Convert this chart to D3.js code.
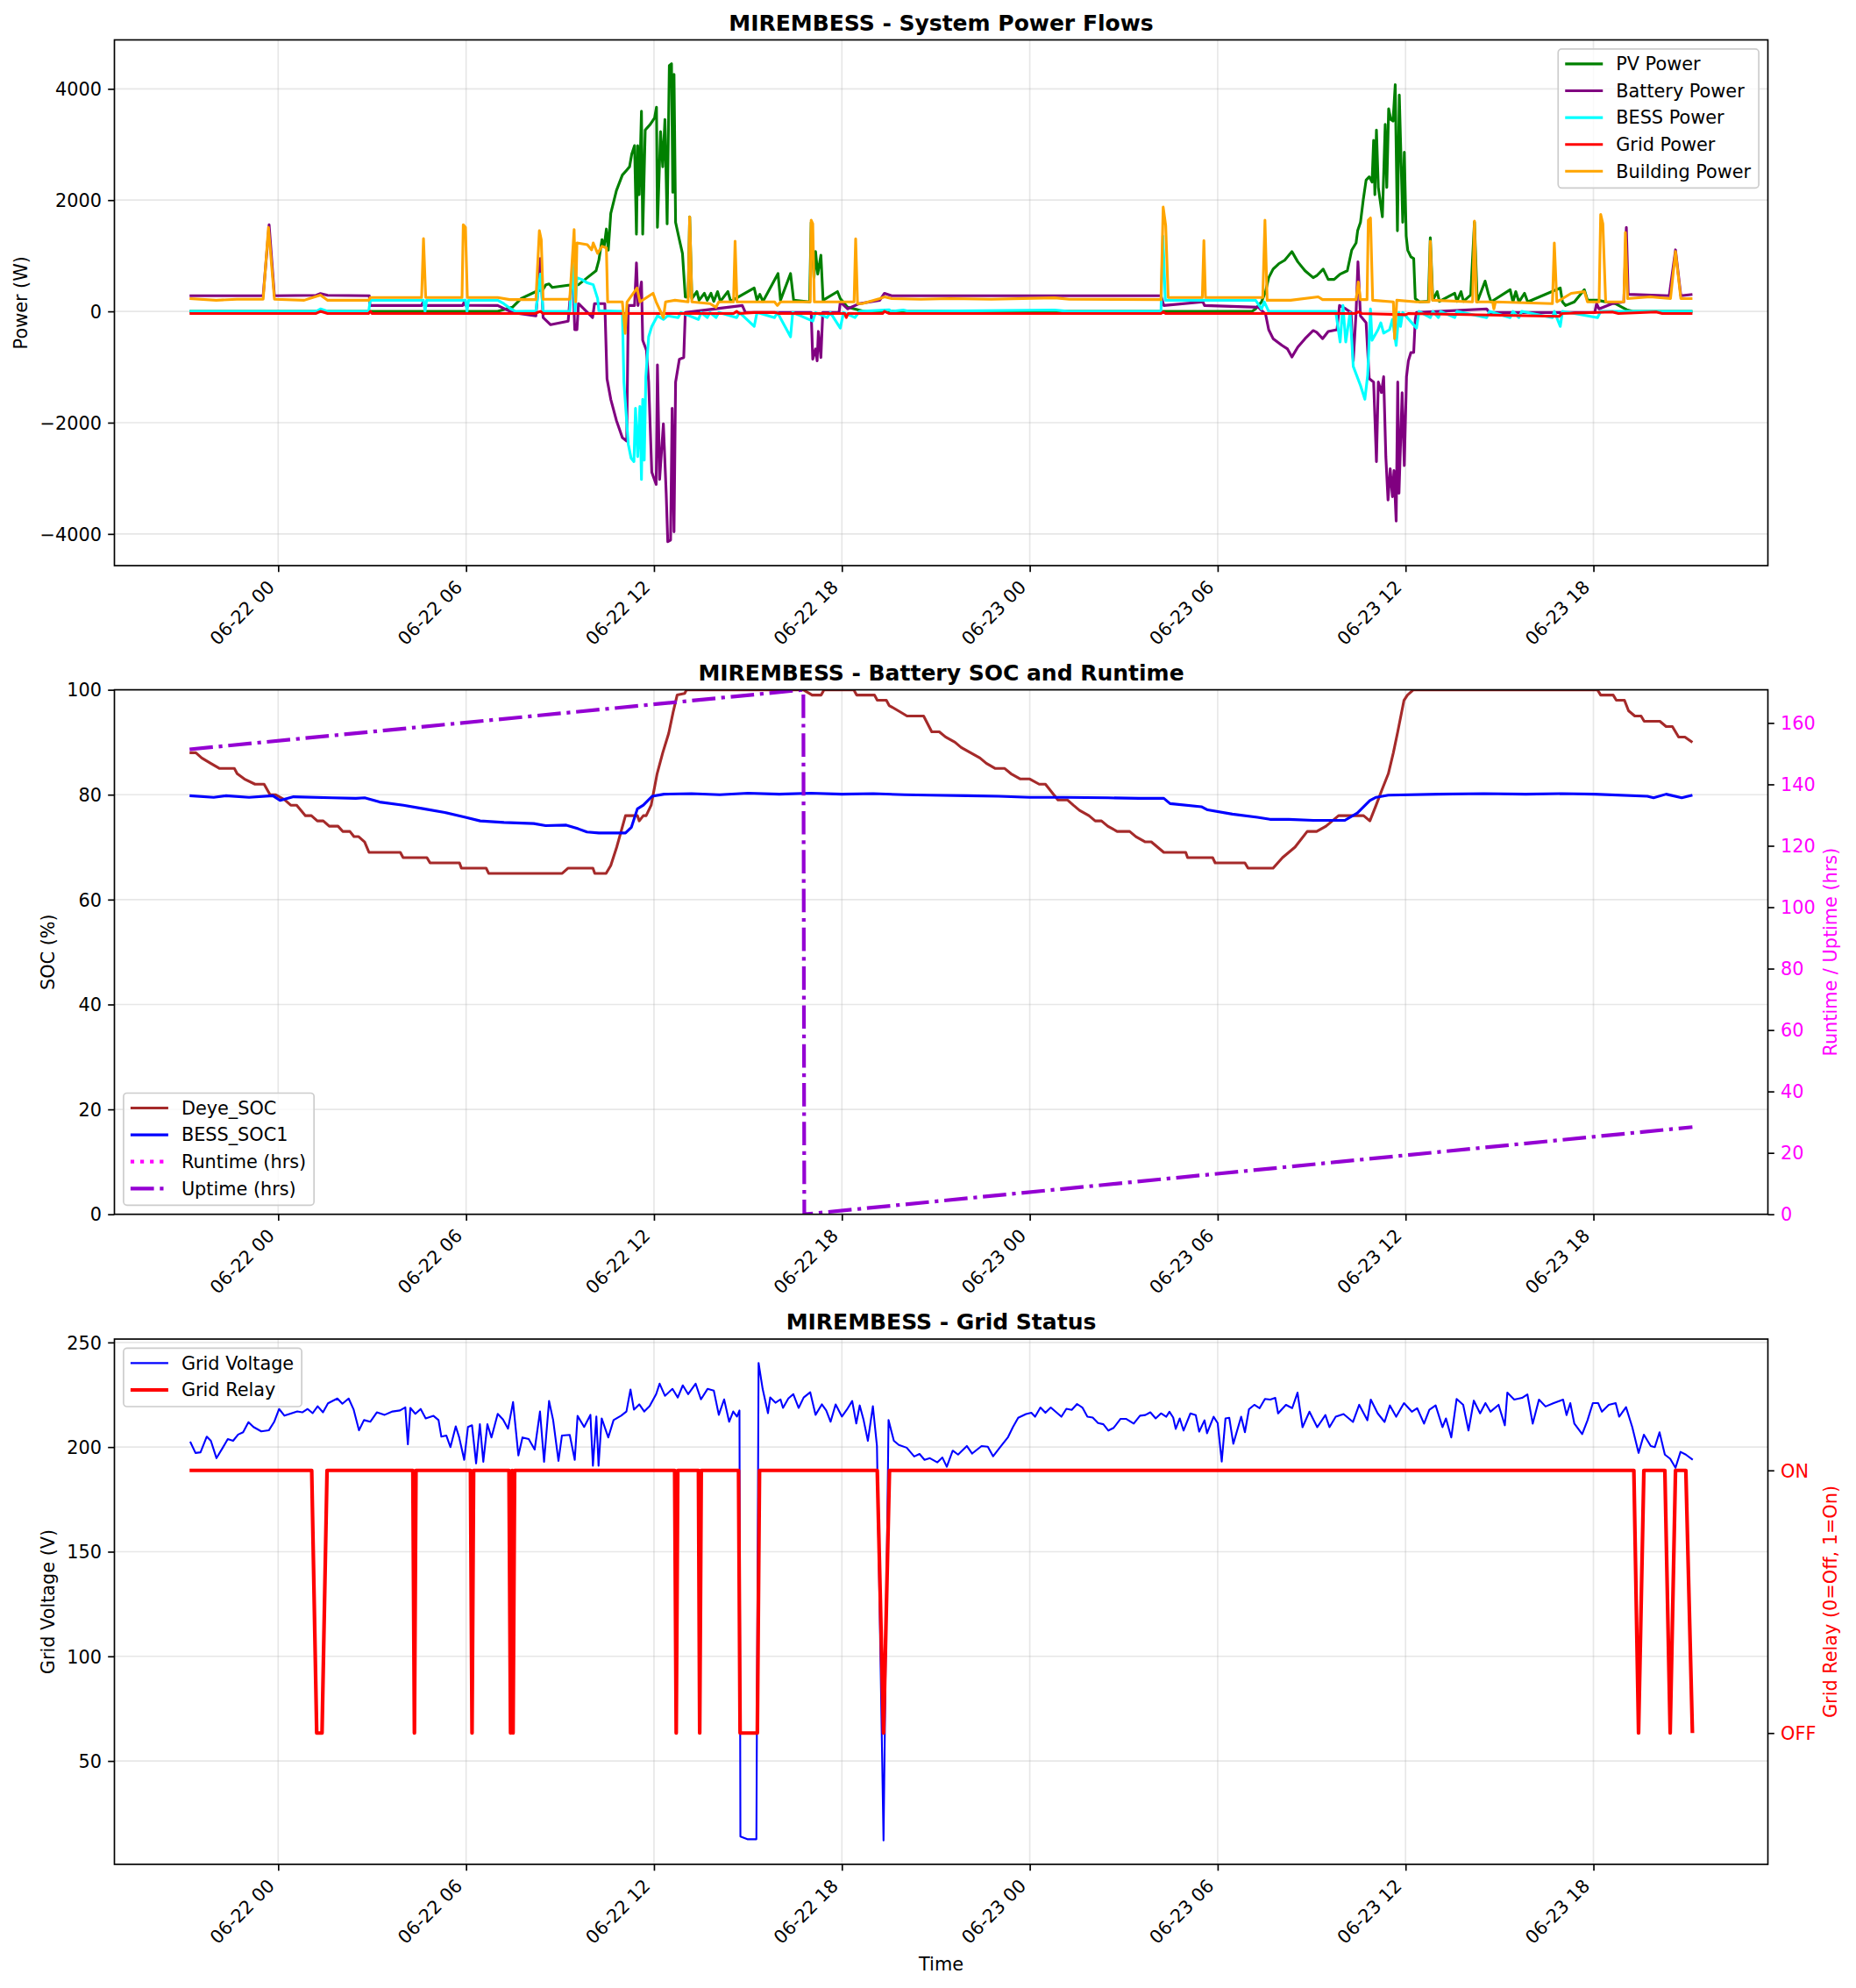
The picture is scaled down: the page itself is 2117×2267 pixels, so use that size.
<!DOCTYPE html>
<meta charset="utf-8">
<body style="margin:0;background:#fff">
<script src="https://d3js.org/d3.v7.min.js"></script>
<script>
// all times are hours from 06-22 00:00

var pvPower = [[-2.83,0],[7.01,0],[7.48,75],[7.76,231],[8.23,356],[8.45,390],[8.55,480],[8.65,494],[8.75,430],[9.26,470],[9.59,480],[9.87,606],[10.15,730],[10.24,920],[10.34,1290],[10.41,1170],[10.48,1480],[10.54,1100],[10.62,1760],[10.80,2170],[10.99,2450],[11.13,2540],[11.22,2600],[11.29,2825],[11.38,2980],[11.44,1390],[11.48,2980],[11.53,2100],[11.60,3600],[11.64,1390],[11.72,3260],[11.88,3360],[12.02,3480],[12.08,3670],[12.11,1510],[12.21,3230],[12.28,2600],[12.35,3450],[12.42,1575],[12.49,4420],[12.56,4450],[12.60,2140],[12.64,4260],[12.69,1600],[12.81,1290],[12.91,1040],[13.00,260],[13.09,255],[13.14,1700],[13.21,230],[13.37,356],[13.44,200],[13.61,325],[13.70,200],[13.82,325],[13.91,180],[14.03,356],[14.12,180],[14.36,356],[14.45,180],[15.20,420],[15.29,200],[15.38,306],[15.48,180],[15.96,680],[16.04,200],[16.36,680],[16.46,200],[16.97,170],[17.02,1600],[17.11,606],[17.16,1075],[17.23,670],[17.33,1010],[17.40,200],[17.86,356],[17.95,230],[18.18,75],[18.65,10],[18.75,0],[31.10,0],[31.21,45],[31.40,170],[31.53,356],[31.63,606],[31.77,760],[31.95,856],[32.14,920],[32.37,1075],[32.56,890],[32.79,730],[33.05,606],[33.16,640],[33.37,760],[33.53,575],[33.72,575],[33.91,670],[34.14,730],[34.28,1100],[34.42,1230],[34.47,1450],[34.56,1600],[34.65,2010],[34.74,2360],[34.84,2420],[34.93,2325],[34.98,3075],[35.02,2100],[35.07,3260],[35.13,2230],[35.26,1700],[35.35,3360],[35.40,2230],[35.46,3640],[35.53,3450],[35.60,3420],[35.67,4075],[35.74,1450],[35.80,3890],[35.91,1600],[35.96,2860],[36.02,1356],[36.07,1100],[36.17,980],[36.26,950],[36.31,230],[36.45,170],[36.73,180],[36.79,1325],[36.87,200],[37.01,356],[37.08,180],[37.57,325],[37.64,180],[37.77,356],[37.85,180],[38.08,294],[38.20,1606],[38.29,170],[38.54,544],[38.64,325],[38.73,170],[39.34,390],[39.43,170],[39.52,356],[39.62,170],[39.80,325],[39.90,170],[40.94,420],[41.01,170],[41.11,106],[41.39,170],[41.71,390],[41.81,200],[42.13,200],[42.69,140],[43.06,30],[43.25,0],[45.16,0]];

var batteryPower = [[-2.83,281],[-0.48,281],[-0.29,1556],[-0.12,281],[1.21,290],[1.35,320],[1.58,290],[2.91,281],[2.93,106],[4.58,106],[4.63,170],[4.67,106],[5.89,106],[5.94,170],[5.98,110],[7.01,106],[7.48,-20],[8.23,-80],[8.37,950],[8.46,-110],[8.70,-240],[9.26,-175],[9.40,790],[9.47,-330],[9.54,-330],[9.59,140],[10.04,-110],[10.10,140],[10.43,140],[10.50,-1210],[10.62,-1580],[10.80,-1960],[10.99,-2270],[11.13,-2330],[11.18,106],[11.38,106],[11.44,870],[11.49,106],[11.60,530],[11.64,-520],[11.76,-700],[11.83,-1270],[11.93,-2890],[12.07,-3110],[12.11,-960],[12.18,-3020],[12.30,-2020],[12.39,-3270],[12.44,-4140],[12.53,-4110],[12.58,-1740],[12.64,-3960],[12.69,-1270],[12.81,-860],[12.95,-830],[13.00,-20],[14.82,106],[14.92,-20],[17.02,-20],[17.07,-860],[17.16,-675],[17.21,-890],[17.25,-360],[17.33,-830],[17.39,-20],[17.91,-20],[17.95,170],[18.18,45],[18.56,140],[19.21,200],[19.36,325],[19.59,281],[28.19,281],[28.28,106],[29.53,170],[29.58,106],[31.30,75],[31.53,-50],[31.63,-330],[31.77,-490],[32.05,-610],[32.23,-675],[32.37,-820],[32.56,-640],[32.79,-490],[33.05,-345],[33.16,-375],[33.35,-490],[33.53,-360],[33.81,-330],[33.89,106],[34.09,45],[34.26,-20],[34.33,-890],[34.42,-20],[34.48,890],[34.56,-80],[34.74,-205],[34.84,-1210],[34.98,-1270],[35.07,-2700],[35.13,-1270],[35.23,-1460],[35.30,-1175],[35.37,-2610],[35.44,-3390],[35.51,-2830],[35.58,-3330],[35.63,-2860],[35.70,-3770],[35.75,-1270],[35.79,-3270],[35.89,-1460],[35.96,-2770],[36.03,-1175],[36.09,-890],[36.17,-740],[36.26,-740],[36.31,-145],[36.35,-20],[38.59,45],[38.68,-20],[42.04,-20],[42.10,140],[42.18,45],[42.60,140],[42.97,170],[43.05,1510],[43.11,306],[44.42,281],[44.62,1106],[44.79,281],[45.16,306]];

var bessPower = [[-2.83,0],[1.21,0],[1.35,45],[1.58,0],[2.89,0],[2.94,200],[4.64,200],[4.69,0],[4.74,200],[5.98,200],[6.03,0],[6.08,200],[7.01,200],[7.20,140],[7.39,60],[7.58,0],[8.23,10],[8.37,670],[8.46,0],[9.31,0],[9.40,860],[9.48,0],[9.54,606],[9.69,575],[9.87,512],[10.06,480],[10.20,231],[10.24,12],[10.99,0],[11.04,-1270],[11.18,-2390],[11.27,-2640],[11.36,-2700],[11.41,-1740],[11.48,-2610],[11.55,-1710],[11.60,-3020],[11.64,-1580],[11.69,-2675],[11.74,-1175],[11.83,-456],[11.93,-270],[12.11,-80],[12.30,-145],[12.44,-80],[12.77,-112],[12.86,-20],[13.42,-145],[13.51,-20],[13.70,-112],[13.79,-20],[13.98,-112],[14.07,-20],[14.64,-112],[14.73,-20],[15.20,-270],[15.29,-20],[15.85,-112],[15.94,-20],[16.36,-456],[16.43,-20],[17.07,-175],[17.16,-20],[17.53,-112],[17.63,-20],[17.95,-300],[18.05,-20],[18.42,-112],[18.56,0],[19.50,30],[19.59,0],[19.96,25],[20.14,0],[24.79,25],[25.26,0],[28.19,0],[28.25,1356],[28.33,200],[31.21,200],[31.40,44],[31.49,170],[31.63,0],[33.77,0],[33.91,-550],[34.00,106],[34.09,-550],[34.23,-20],[34.33,-990],[34.56,-1330],[34.70,-1580],[34.79,-1145],[34.88,44],[34.93,-520],[35.12,-330],[35.21,-205],[35.30,-390],[35.49,-330],[35.58,-145],[35.70,-612],[35.79,-20],[35.84,-270],[35.91,-20],[36.35,-300],[36.43,0],[36.79,-112],[36.87,0],[37.05,-112],[37.12,0],[37.57,-112],[37.64,0],[38.59,-112],[38.68,0],[39.34,-112],[39.43,0],[39.62,-112],[39.71,0],[40.69,-112],[40.75,0],[40.94,-270],[41.01,0],[42.13,-112],[42.23,0],[45.16,0]];

var gridPower = [[-2.83,-37],[1.21,-37],[1.35,0],[1.58,-37],[2.89,-37],[2.94,0],[3.00,-37],[8.20,-37],[8.37,0],[8.46,-37],[14.54,-37],[14.64,0],[14.73,-37],[15.20,-20],[15.85,-20],[16.00,-37],[18.09,-37],[18.14,-110],[18.20,-37],[19.30,-37],[19.36,0],[19.50,-37],[28.19,-37],[28.26,-10],[28.34,-37],[34.40,-37],[34.50,-10],[34.60,-37],[36.00,-60],[36.10,-37],[40.90,-90],[41.00,-37],[42.60,-10],[42.80,-37],[44.00,-10],[44.20,-37],[45.16,-37]];

var buildingPower = [[-2.83,231],[-1.98,200],[-1.32,219],[-0.48,219],[-0.31,1510],[-0.12,219],[0.83,200],[1.35,294],[1.58,200],[2.89,200],[2.94,250],[4.58,250],[4.64,1310],[4.71,250],[5.87,250],[5.91,1556],[5.98,1510],[6.04,250],[7.01,250],[7.39,212],[8.23,212],[8.34,1450],[8.40,1290],[8.46,219],[9.31,219],[9.45,1470],[9.50,170],[9.54,1230],[9.87,1200],[10.01,1106],[10.06,1230],[10.20,1044],[10.34,1170],[10.48,1140],[10.52,170],[10.99,170],[11.08,-394],[11.14,170],[11.46,420],[11.55,170],[11.97,325],[12.07,170],[12.30,-112],[12.37,170],[12.67,200],[13.09,170],[13.14,1700],[13.21,170],[13.79,140],[13.98,75],[14.07,170],[14.54,170],[14.59,1262],[14.65,170],[15.85,170],[15.94,106],[16.04,170],[16.99,170],[17.02,1640],[17.07,1575],[17.12,170],[17.72,170],[18.39,170],[18.44,1306],[18.50,140],[18.65,140],[19.21,231],[19.36,262],[19.59,231],[20.52,219],[21.46,231],[22.77,219],[24.79,244],[25.26,219],[28.19,212],[28.26,1875],[28.34,1544],[28.42,250],[29.51,250],[29.56,1275],[29.61,250],[31.44,250],[31.51,1640],[31.58,200],[32.33,200],[33.21,262],[33.35,212],[34.42,212],[34.49,530],[34.56,212],[34.77,212],[34.81,1640],[34.88,1680],[34.95,200],[35.61,170],[35.65,-490],[35.72,200],[36.35,170],[36.75,170],[36.79,1262],[36.86,200],[38.14,170],[38.20,1625],[38.26,170],[38.78,170],[38.82,44],[38.87,170],[40.69,140],[40.75,1230],[40.83,170],[41.29,325],[41.71,356],[41.81,170],[42.18,170],[42.23,1744],[42.30,1575],[42.39,170],[42.97,170],[43.02,1420],[43.09,231],[43.81,262],[44.46,231],[44.62,1075],[44.79,231],[45.16,231]];

var deyeSoc = [[-2.83,88],[-2.63,88],[-2.44,87],[-2.16,86],[-1.87,85],[-1.40,85],[-1.31,84],[-1.08,83],[-0.74,82],[-0.45,82],[-0.26,80],[-0.08,80],[0.21,79],[0.40,78],[0.59,78],[0.87,76],[1.06,76],[1.25,75],[1.44,75],[1.63,74],[1.91,74],[2.06,73],[2.29,73],[2.42,72],[2.57,72],[2.76,71],[2.90,69],[3.90,69],[3.99,68],[4.75,68],[4.85,67],[5.79,67],[5.85,66],[6.64,66],[6.72,65],[9.07,65],[9.26,66],[10.05,66],[10.11,65],[10.47,65],[10.62,66.5],[10.81,70],[11.09,76],[11.47,76],[11.53,75],[11.66,76],[11.75,76],[11.91,78],[12.10,84],[12.28,88],[12.47,91.7],[12.61,95.7],[12.74,99],[12.98,99.3],[13.04,100],[16.77,100],[17.05,99],[17.34,99],[17.43,100],[18.38,100],[18.47,99],[19.04,99],[19.13,98],[19.42,98],[19.51,97],[19.80,96],[20.08,95],[20.61,95],[20.87,92],[21.11,92],[21.31,91],[21.61,90],[21.81,89],[22.11,88],[22.41,87],[22.61,86],[22.90,85],[23.20,85],[23.40,84],[23.70,83],[24.00,83],[24.30,82],[24.50,82],[24.90,79],[25.20,79],[25.39,78],[25.59,77],[25.89,76],[26.09,75],[26.29,75],[26.49,74],[26.79,73],[27.19,73],[27.39,72],[27.69,71],[27.88,71],[28.08,70],[28.28,69],[28.98,69],[29.04,68],[29.84,68],[29.92,67],[30.87,67],[30.97,66],[31.77,66],[32.07,68],[32.47,70],[32.86,73],[33.16,73],[33.46,74],[33.86,76],[34.66,76],[34.86,75],[35.06,78],[35.25,81],[35.45,84],[35.61,88],[35.75,92],[35.95,98],[36.06,99],[36.25,100],[42.13,100],[42.23,99],[42.63,99],[42.73,98],[42.99,98],[43.12,96],[43.32,95],[43.52,95],[43.62,94],[44.12,94],[44.32,93],[44.52,93],[44.72,91],[44.92,91],[45.16,90]];

var bessSoc = [[-2.83,79.8],[-2.06,79.5],[-1.68,79.8],[-0.93,79.5],[-0.17,79.8],[0.06,78.9],[0.49,79.6],[1.72,79.4],[2.48,79.3],[2.76,79.4],[3.24,78.6],[4.00,78.0],[4.66,77.3],[5.32,76.6],[5.98,75.7],[6.45,75.0],[7.21,74.7],[8.16,74.5],[8.54,74.1],[9.20,74.2],[9.58,73.5],[9.86,72.9],[10.24,72.7],[11.09,72.7],[11.28,73.8],[11.47,77.3],[11.66,78.0],[11.94,79.7],[12.32,80.1],[13.20,80.2],[14.10,80.0],[15.00,80.3],[16.00,80.1],[17.00,80.3],[18.00,80.1],[19.00,80.2],[20.00,80.0],[20.80,79.9],[22.00,79.8],[23.00,79.7],[24.00,79.5],[25.10,79.5],[26.50,79.4],[27.49,79.3],[28.28,79.3],[28.48,78.3],[29.48,77.7],[29.68,77.1],[30.47,76.3],[31.27,75.7],[31.67,75.3],[32.27,75.3],[33.06,75.1],[34.06,75.1],[34.46,76.5],[34.86,78.9],[35.06,79.5],[35.45,79.9],[37.05,80.1],[38.50,80.2],[39.84,80.1],[41.00,80.2],[42.03,80.1],[43.72,79.7],[43.92,79.4],[44.32,80.1],[44.82,79.4],[45.16,79.9]];

// runtime had no plotted values in the source chart, only a legend entry
var runtimeHrs = [];
var uptimeHrs = [[-2.83,151.4],[16.77,170.8],[16.80,0],[45.16,28.4]];

var gridVoltage = [[-2.81,202.6],[-2.64,197.2],[-2.48,197.5],[-2.28,205],[-2.15,203],[-1.97,194.7],[-1.77,199.7],[-1.61,203.8],[-1.44,203],[-1.28,206],[-1.12,207.1],[-0.95,211.9],[-0.79,209.6],[-0.54,207.5],[-0.30,208],[-0.13,212],[0.03,218.2],[0.20,215],[0.44,216.2],[0.61,217],[0.77,216.6],[0.94,218.2],[1.10,216.2],[1.26,219.5],[1.43,216.6],[1.59,220.9],[1.89,223.2],[2.05,220.7],[2.25,223.2],[2.41,217.9],[2.58,208],[2.74,212.9],[2.94,212.1],[3.15,216.6],[3.40,215.4],[3.65,217],[3.89,217.5],[4.06,219],[4.14,201.3],[4.22,218.7],[4.38,215.9],[4.55,218.2],[4.71,213.7],[4.96,214.9],[5.12,212.9],[5.21,205],[5.37,205.5],[5.50,200],[5.67,209.9],[5.78,204.6],[5.94,193.9],[6.06,209.6],[6.19,210.4],[6.32,192.2],[6.44,210.9],[6.55,193],[6.68,210.9],[6.81,204.6],[7.01,215.9],[7.18,213.2],[7.34,208.8],[7.50,221.5],[7.67,196],[7.80,204.6],[8.00,203.8],[8.19,198.8],[8.36,217],[8.49,193],[8.65,222],[8.78,212.9],[8.95,193.4],[9.06,205.5],[9.31,205.8],[9.47,193.9],[9.56,214.9],[9.77,209.6],[9.97,215.4],[10.05,191.1],[10.16,214.6],[10.23,191.1],[10.33,213.7],[10.54,204.6],[10.71,212.9],[10.95,215],[11.12,217],[11.25,227.5],[11.36,217.9],[11.53,220.4],[11.69,217],[11.86,219.5],[12.07,225.3],[12.18,230.3],[12.35,224.5],[12.59,227.8],[12.76,223.7],[12.92,229.5],[13.09,225.3],[13.33,230.3],[13.50,222.8],[13.71,227.8],[13.91,227],[14.07,215.4],[14.24,222.8],[14.40,212.1],[14.53,217],[14.65,214.6],[14.73,217.5],[14.76,13.9],[14.98,12.6],[15.27,12.6],[15.34,240.2],[15.47,227.8],[15.64,216.2],[15.71,223.7],[15.88,221.2],[16.04,222.8],[16.12,218.7],[16.29,223.2],[16.45,225.3],[16.62,218.7],[16.78,223.7],[16.99,226.2],[17.16,215.4],[17.36,220.4],[17.50,217.5],[17.64,212.1],[17.80,220.4],[18.00,214.6],[18.16,217.9],[18.33,222],[18.46,211.3],[18.57,219.9],[18.69,213.2],[18.83,203],[18.99,219.5],[19.12,200.5],[19.33,12],[19.49,212.9],[19.66,203],[19.82,201],[20.07,199.7],[20.31,195.5],[20.48,196.7],[20.64,193.9],[20.81,194.7],[21.05,192.7],[21.21,195],[21.35,190.6],[21.54,198.3],[21.71,196.4],[21.99,200.5],[22.16,196.9],[22.46,200.5],[22.66,200.2],[22.83,195.6],[23.04,199.7],[23.30,204.6],[23.46,209.5],[23.63,214],[23.88,215.8],[24.05,216.4],[24.17,214.5],[24.34,218.9],[24.50,216.4],[24.67,218.9],[25.01,214.5],[25.17,218.3],[25.34,217.8],[25.51,220.6],[25.68,218.9],[25.84,214.5],[26.01,214.1],[26.18,211.5],[26.35,210.9],[26.51,207.9],[26.68,209.2],[26.90,213.5],[27.07,213.5],[27.32,211.2],[27.52,215],[27.69,215.3],[27.85,216.6],[28.02,213.7],[28.19,216.1],[28.36,214.5],[28.46,216.9],[28.58,214.1],[28.66,208.7],[28.79,213.7],[28.91,207.9],[29.13,216.1],[29.30,215.3],[29.41,207.4],[29.58,212.8],[29.66,206.6],[29.87,214.5],[30.00,211.5],[30.13,193.1],[30.25,213.7],[30.37,214],[30.50,201.6],[30.75,214.5],[30.87,207.1],[31.00,218.1],[31.17,220.2],[31.34,218.6],[31.51,223],[31.68,222.7],[31.84,223.5],[31.93,216.1],[32.18,220.2],[32.38,218.6],[32.55,226],[32.71,209.5],[32.93,216.9],[33.18,209.5],[33.44,215.3],[33.57,209.5],[33.77,214.5],[34.02,215.8],[34.32,212],[34.52,220.2],[34.78,212.8],[34.89,222.7],[35.11,216.1],[35.33,212],[35.50,219.9],[35.70,214.5],[35.95,221],[36.20,216.9],[36.37,218.6],[36.59,211.2],[36.76,217.8],[36.96,219.9],[37.18,209.5],[37.29,213.7],[37.46,204.6],[37.63,223],[37.84,220.2],[38.01,207.9],[38.18,222.2],[38.38,216.1],[38.55,221],[38.71,216.9],[38.97,220.2],[39.17,210.4],[39.25,226],[39.47,222.7],[39.72,223.5],[39.89,225.2],[40.06,211.2],[40.26,222.7],[40.47,219.4],[40.73,221],[41.03,222.7],[41.14,215.3],[41.26,221],[41.39,211.2],[41.64,206.2],[41.81,212.8],[41.98,221],[42.15,221],[42.27,216.9],[42.49,220.2],[42.71,221],[42.82,214.5],[43.04,219.1],[43.24,209.5],[43.44,197.2],[43.61,205.9],[43.83,200.5],[43.96,200],[44.11,207.1],[44.28,196.4],[44.45,194.4],[44.62,190.1],[44.78,197.7],[44.95,196.4],[45.17,193.9]];

// 1 = relay on, 0 = relay off
var gridRelay = [[-2.83,1],[1.07,1],[1.23,0],[1.40,0],[1.56,1],[4.30,1],[4.35,0],[4.40,1],[6.14,1],[6.19,0],[6.24,1],[7.37,1],[7.42,0],[7.47,1],[7.50,0],[7.55,1],[12.66,1],[12.71,0],[12.76,1],[13.42,1],[13.46,0],[13.51,1],[14.70,1],[14.75,0],[15.30,0],[15.37,1],[19.13,1],[19.33,0],[19.52,1],[43.29,1],[43.44,0],[43.61,1],[44.28,1],[44.45,0],[44.62,1],[44.95,1],[45.16,0]];

var powerTicks = [-4000, -2000, 0, 2000, 4000];
var socTicks = [0, 20, 40, 60, 80, 100];
var hoursTicks = [0, 20, 40, 60, 80, 100, 120, 140, 160];
var voltTicks = [50, 100, 150, 200, 250];
var relayTicks = [0, 1];
var relayLabels = ["OFF", "ON"];

var W = 2117, H = 2267, FS = 20.8;
var left = 130.5, right = 2016.5;
var panels = [{top: 45.5, bottom: 645}, {top: 786.6, bottom: 1384.7}, {top: 1527, bottom: 2126}];

var base = new Date(2025, 5, 22, 0, 0, 0);
function toDate(h) { return new Date(base.getTime() + h * 3600000); }

// x domain: data extent plus 5% padding each side
var allH = [].concat(pvPower, batteryPower, bessPower, gridPower, buildingPower, deyeSoc, bessSoc, uptimeHrs, gridVoltage, gridRelay).map(function(d) { return d[0]; });
var hMin = d3.min(allH), hMax = d3.max(allH), hPad = (hMax - hMin) * 0.05;
var x = d3.scaleTime().domain([toDate(hMin - hPad), toDate(hMax + hPad)]).range([left, right]);
var xTicks = x.ticks(d3.timeHour.every(6));
var fmtTime = d3.timeFormat("%m-%d %H");

function padDomain(vals) {
  var lo = d3.min(vals), hi = d3.max(vals), p = (hi - lo) * 0.05;
  return [lo - p, hi + p];
}

var svg = d3.select("body").append("svg")
  .attr("width", W).attr("height", H)
  .style("font-family", "'DejaVu Sans', sans-serif");
svg.append("rect").attr("width", W).attr("height", H).attr("fill", "#fff");

function grid(p, y, yTicks) {
  var g = svg.append("g");
  g.selectAll(".vg").data(xTicks).enter().append("line")
    .attr("x1", function(d) { return x(d); }).attr("x2", function(d) { return x(d); })
    .attr("y1", p.top).attr("y2", p.bottom)
    .attr("stroke", "#b0b0b0").attr("stroke-opacity", 0.3).attr("stroke-width", 1.67);
  g.selectAll(".hg").data(yTicks).enter().append("line")
    .attr("x1", left).attr("x2", right)
    .attr("y1", function(d) { return y(d); }).attr("y2", function(d) { return y(d); })
    .attr("stroke", "#b0b0b0").attr("stroke-opacity", 0.3).attr("stroke-width", 1.67);
}

function clipFor(i, p) {
  svg.append("clipPath").attr("id", "clip" + i).append("rect")
    .attr("x", left).attr("y", p.top).attr("width", right - left).attr("height", p.bottom - p.top);
  return svg.append("g").attr("clip-path", "url(#clip" + i + ")");
}

function drawLine(g, data, y, color, w, dash) {
  var line = d3.line()
    .x(function(d) { return x(toDate(d[0])); })
    .y(function(d) { return y(d[1]); });
  g.append("path").datum(data)
    .attr("d", line)
    .attr("fill", "none")
    .attr("stroke", color)
    .attr("stroke-width", w)
    .attr("stroke-linejoin", "round")
    .attr("stroke-dasharray", dash || null);
}

function axes(p, y, yTicks, yFmt) {
  var ax = svg.append("g").attr("transform", "translate(0," + p.bottom + ")")
    .call(d3.axisBottom(x).tickValues(xTicks).tickFormat(fmtTime).tickSize(7.3).tickSizeOuter(0));
  ax.attr("font-family", null).attr("font-size", null);
  ax.select(".domain").remove();
  ax.selectAll("line").attr("stroke", "#000").attr("stroke-width", 1.67);
  ax.selectAll("text").attr("y", null).attr("dy", null)
    .attr("text-anchor", "end").attr("font-size", FS).attr("fill", "#000")
    .attr("transform", "translate(-3.5,25.8) rotate(-45)");

  var ay = svg.append("g").attr("transform", "translate(" + left + ",0)")
    .call(d3.axisLeft(y).tickValues(yTicks).tickFormat(yFmt || d3.format("d")).tickSize(7.3).tickPadding(7.3).tickSizeOuter(0));
  ay.attr("font-family", null).attr("font-size", null);
  ay.select(".domain").remove();
  ay.selectAll("line").attr("stroke", "#000").attr("stroke-width", 1.67);
  ay.selectAll("text").attr("font-size", FS).attr("fill", "#000").attr("dy", "0.35em");
}

function rightAxis(p, y, ticks, labels, color) {
  var ay = svg.append("g").attr("transform", "translate(" + right + ",0)")
    .call(d3.axisRight(y).tickValues(ticks)
      .tickFormat(function(d, i) { return labels ? labels[i] : d; })
      .tickSize(7.3).tickPadding(7.3).tickSizeOuter(0));
  ay.attr("font-family", null).attr("font-size", null);
  ay.select(".domain").remove();
  ay.selectAll("line").attr("stroke", "#000").attr("stroke-width", 1.67);
  ay.selectAll("text").attr("font-size", FS).attr("fill", color).attr("dy", "0.35em");
}

function spines(p) {
  svg.append("rect").attr("x", left).attr("y", p.top)
    .attr("width", right - left).attr("height", p.bottom - p.top)
    .attr("fill", "none").attr("stroke", "#000").attr("stroke-width", 1.67);
}

function title(p, text) {
  svg.append("text").attr("x", (left + right) / 2).attr("y", p.top - 11)
    .attr("text-anchor", "middle").attr("font-size", 25).attr("font-weight", "bold")
    .text(text);
}

function yLabel(p, xPos, text, color) {
  svg.append("text")
    .attr("transform", "translate(" + xPos + "," + ((p.top + p.bottom) / 2) + ") rotate(-90)")
    .attr("text-anchor", "middle").attr("dy", "0.35em")
    .attr("font-size", FS).attr("fill", color || "#000")
    .text(text);
}

function legend(items, boxLeft, boxTop, anchorRight) {
  var g = svg.append("g");
  var box = g.append("rect").attr("y", boxTop).attr("rx", 4).attr("ry", 4)
    .attr("fill", "#fff").attr("fill-opacity", 0.8)
    .attr("stroke", "#cccccc").attr("stroke-width", 1.67);
  var rows = [], maxW = 0;
  items.forEach(function(it, i) {
    var cy = boxTop + 17 + i * 30.6;
    var ln = g.append("line").attr("y1", cy).attr("y2", cy)
      .attr("stroke", it.color).attr("stroke-width", it.w)
      .attr("stroke-dasharray", it.dash || null);
    var tx = g.append("text").attr("y", cy).attr("dy", "0.35em")
      .attr("font-size", FS).attr("fill", "#000").text(it.label);
    maxW = Math.max(maxW, tx.node().getComputedTextLength());
    rows.push([ln, tx]);
  });
  var width = 66 + maxW + 9;
  var x0 = anchorRight ? boxLeft - width : boxLeft;
  box.attr("x", x0).attr("width", width).attr("height", 17 + (items.length - 1) * 30.6 + 19);
  rows.forEach(function(r) {
    r[0].attr("x1", x0 + 8).attr("x2", x0 + 51);
    r[1].attr("x", x0 + 66);
  });
}

// ---- panel 1: power flows
var p1 = panels[0];
var powerAll = [].concat(pvPower, batteryPower, bessPower, gridPower, buildingPower).map(function(d) { return d[1]; });
var y1 = d3.scaleLinear().domain(padDomain(powerAll)).range([p1.bottom, p1.top]);
grid(p1, y1, powerTicks);
var g1 = clipFor(1, p1);
drawLine(g1, pvPower, y1, "green", 3.1);
drawLine(g1, batteryPower, y1, "purple", 3.1);
drawLine(g1, bessPower, y1, "cyan", 3.1);
drawLine(g1, gridPower, y1, "red", 3.1);
drawLine(g1, buildingPower, y1, "orange", 3.1);
axes(p1, y1, powerTicks);
spines(p1);
title(p1, "MIREMBESS - System Power Flows");
yLabel(p1, 24, "Power (W)");
legend([
  {label: "PV Power", color: "green", w: 3.1},
  {label: "Battery Power", color: "purple", w: 3.1},
  {label: "BESS Power", color: "cyan", w: 3.1},
  {label: "Grid Power", color: "red", w: 3.1},
  {label: "Building Power", color: "orange", w: 3.1}
], right - 10.4, p1.top + 10.4, true);

// ---- panel 2: SOC and runtime
var p2 = panels[1];
var y2 = d3.scaleLinear().domain([0, 100]).range([p2.bottom, p2.top]);
var y2r = d3.scaleLinear().domain([0, d3.max(uptimeHrs, function(d) { return d[1]; })]).range([p2.bottom, p2.top]);
grid(p2, y2, socTicks);
var g2 = clipFor(2, p2);
drawLine(g2, deyeSoc, y2, "brown", 3.1);
drawLine(g2, bessSoc, y2, "blue", 3.1);
if (runtimeHrs.length) drawLine(g2, runtimeHrs, y2r, "magenta", 4.2, "4.2,6.9");
drawLine(g2, uptimeHrs, y2r, "darkviolet", 4.2, "26.7,6.7,4.2,6.7");
axes(p2, y2, socTicks);
rightAxis(p2, y2r, hoursTicks, null, "magenta");
spines(p2);
title(p2, "MIREMBESS - Battery SOC and Runtime");
yLabel(p2, 55, "SOC (%)");
yLabel(p2, 2088, "Runtime / Uptime (hrs)", "magenta");
legend([
  {label: "Deye_SOC", color: "brown", w: 3.1},
  {label: "BESS_SOC1", color: "blue", w: 3.1},
  {label: "Runtime (hrs)", color: "magenta", w: 4.2, dash: "4.2,6.9"},
  {label: "Uptime (hrs)", color: "darkviolet", w: 4.2, dash: "26.7,6.7,4.2,6.7"}
], left + 10.4, p2.bottom - 10.4 - (17 + 3 * 30.6 + 19), false);

// ---- panel 3: grid status
var p3 = panels[2];
var y3 = d3.scaleLinear().domain(padDomain(gridVoltage.map(function(d) { return d[1]; }))).range([p3.bottom, p3.top]);
var y3r = d3.scaleLinear().domain([-0.5, 1.5]).range([p3.bottom, p3.top]);
grid(p3, y3, voltTicks);
var g3 = clipFor(3, p3);
drawLine(g3, gridVoltage, y3, "blue", 2.1);
drawLine(g3, gridRelay, y3r, "red", 4.2);
axes(p3, y3, voltTicks);
rightAxis(p3, y3r, relayTicks, relayLabels, "red");
spines(p3);
title(p3, "MIREMBESS - Grid Status");
yLabel(p3, 55, "Grid Voltage (V)");
yLabel(p3, 2088, "Grid Relay (0=Off, 1=On)", "red");
legend([
  {label: "Grid Voltage", color: "blue", w: 2.1},
  {label: "Grid Relay", color: "red", w: 4.2}
], left + 10.4, p3.top + 10.4, false);

svg.append("text").attr("x", (left + right) / 2).attr("y", 2247)
  .attr("text-anchor", "middle").attr("font-size", FS).text("Time");
</script>
</body>
